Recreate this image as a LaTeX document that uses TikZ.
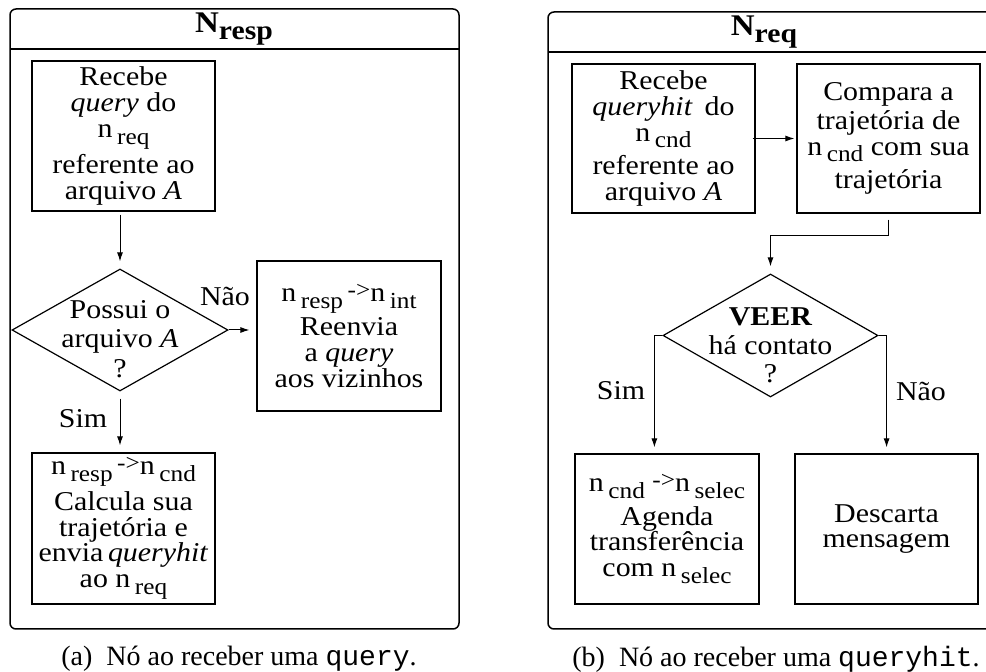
\documentclass[tikz,border=0pt]{standalone}
\usepackage{fontspec}
\setmainfont{Liberation Serif}
\setmonofont{Liberation Mono}
\newfontfamily\figfont[FakeStretch=1.1]{Liberation Serif}
\usetikzlibrary{shapes,arrows.meta,positioning}
\tikzset{>={Latex[length=4.5pt,width=3pt]}}
% indices e seta pequena, como no desenho
\newcommand\idx[1]{\,\raisebox{-0.55ex}{\fontsize{11.5}{11.5}\selectfont #1}}
\newcommand\tidx[1]{\raisebox{-0.5ex}{\fontsize{13.5}{13.5}\selectfont #1}}
\newcommand\seta{\raisebox{0.3ex}{\fontsize{11.5}{11.5}\selectfont -{}>}}
\newcommand\figtext[1]{\figfont\fontsize{13.6}{#1}\selectfont\lineskiplimit=-10pt\relax}
\tikzset{
     caixa/.style={draw, line width=0.6pt, inner sep=0pt, align=center,
                   minimum width=91.5pt, minimum height=75pt},
     decisao/.style={draw, line width=0.6pt, diamond, inner sep=0pt,
                   minimum width=108pt, minimum height=61pt},
     quadro/.style={draw, line width=0.75pt, rounded corners=3pt},
     rotulo/.style={inner sep=0pt},
     titulo/.style={inner sep=0pt, font=\figfont\fontsize{15}{15}\selectfont\bfseries},
     legenda/.style={inner sep=0pt, font=\rmfamily\fontsize{14}{15}\selectfont},
}

\begin{document}
\begin{tikzpicture}[x=0.5pt,y=-0.5pt, font={\figtext{12.9}}, line width=0.5pt]
		\useasboundingbox (0,0) rectangle (986,672);

		% (a) no que responde
		\draw[quadro] (10,9) rectangle (459,629);
		\draw[line width=0.75pt] (10,49) -- (459,49);
		\node[titulo] (tresp) at (234,29) {N\tidx{resp}};

		\node[caixa] (a1) at (123.5,136) {Recebe\\\textit{query} do\\n\idx{req}\\[5pt]referente ao\\arquivo \textit{A}};
		\node[decisao, label={[align=center, yshift=-4.5pt, font={\figtext{14.8}}]center:{Possui o\\arquivo \textit{A}\\?}}] (adia) at (120,330) {};
		\node[caixa, minimum width=92pt] (a2) at (349,336) {n\idx{resp}\,\seta n\idx{int}\\[4pt]Reenvia\\a \textit{query}\\aos vizinhos};
		\node[caixa, minimum height=75.5pt] (a3) at (123.5,528.5) {n\idx{resp}\,\seta n\idx{cnd}\\[5pt]Calcula sua\\trajetória e\\envia\,\textit{queryhit}\\ao n\idx{req}};

		\draw[->, shorten <=1.5pt, shorten >=3.5pt] (a1.south -| adia.north) -- (adia.north);
		\draw[->, shorten >=3.5pt] (adia.east) -- (adia.east -| a2.west);
		\draw[->, shorten <=3.5pt, shorten >=3.5pt] (adia.south) -- (adia.south |- a3.north);
		\node[rotulo] (naoa) at (225,296) {Não};
		\node[rotulo] (sima) at (83,419) {Sim};

		\node[legenda] (capa) at (239,659) {(a)\enspace Nó ao receber uma \texttt{query}.};

		% (b) no que requisita
		\draw[quadro] (548,12) rectangle (995,629);
		\draw[line width=0.75pt] (548,52) -- (995,52);
		\node[titulo] (treq) at (764,32) {N\tidx{req}};

		\node[caixa, minimum height=74.5pt] (b1) at (663.5,138.5) {Recebe\\\textit{queryhit}\, do\\n\idx{cnd}\\[4pt]referente ao\\arquivo \textit{A}};
		\node[caixa, minimum height=74.5pt] (b2) at (888.5,138.5) {Compara a\\[1.5pt]trajetória de\\n\idx{cnd} com sua\\[4pt]trajetória};
		\node[decisao, minimum width=107.5pt, minimum height=61.5pt,
		      label={[align=center, yshift=-5pt, font={\figtext{14.3}}]center:{\textbf{VEER}\\há contato\\?}}] (bdia) at (770.5,335.5) {};
		\node[caixa, minimum width=92pt] (b3) at (667,529) {n\idx{cnd}\ \seta n\idx{selec}\\[4pt]Agenda\\transferência\\com n\idx{selec}};
		\node[caixa] (b4) at (886.5,529) {Descarta\\mensagem};

		\draw[->, shorten <=-1.5pt, shorten >=1pt] (b1.east) -- (b2.west);
		\draw[->, shorten <=3pt, shorten >=3.5pt] (b2.south) -- ++(0,22) -| (bdia.north);
		\draw[->, shorten >=3pt] (bdia.west) -- ++(-8,0) coordinate (simb) -- (simb |- b3.north);
		\draw[->, shorten >=3pt] (bdia.east) -- ++(8,0) coordinate (naob) -- (naob |- b4.north);
		\node[rotulo] (simlb) at (621,391) {Sim};
		\node[rotulo] (naolb) at (921,391) {Não};

		\node[legenda] (capb) at (776,659) {(b)\enspace Nó ao receber uma \texttt{queryhit}.};
\end{tikzpicture}
\end{document}
